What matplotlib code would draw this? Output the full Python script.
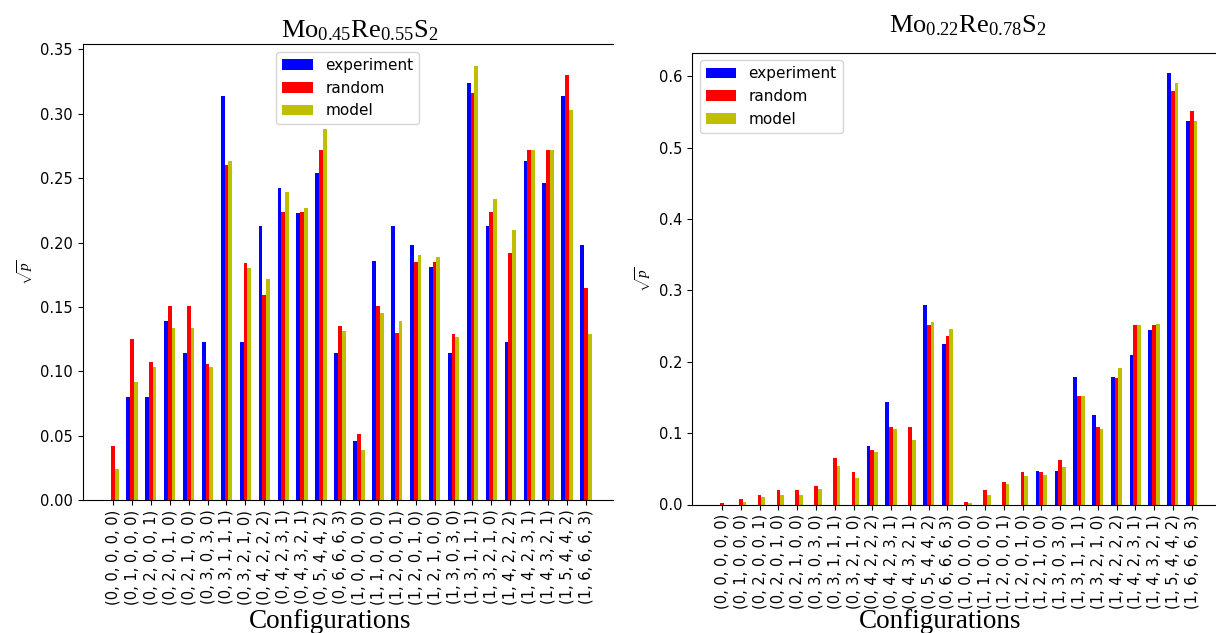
import matplotlib
matplotlib.use("Agg")
import matplotlib.pyplot as plt
import numpy as np

plt.rcParams['mathtext.fontset'] = 'custom'
plt.rcParams['mathtext.rm'] = 'Liberation Serif'
plt.rcParams['mathtext.it'] = 'Liberation Serif:italic'

configs = [
    (0, 0, 0, 0, 0), (0, 1, 0, 0, 0), (0, 2, 0, 0, 1), (0, 2, 0, 1, 0),
    (0, 2, 1, 0, 0), (0, 3, 0, 3, 0), (0, 3, 1, 1, 1), (0, 3, 2, 1, 0),
    (0, 4, 2, 2, 2), (0, 4, 2, 3, 1), (0, 4, 3, 2, 1), (0, 5, 4, 4, 2),
    (0, 6, 6, 6, 3), (1, 0, 0, 0, 0), (1, 1, 0, 0, 0), (1, 2, 0, 0, 1),
    (1, 2, 0, 1, 0), (1, 2, 1, 0, 0), (1, 3, 0, 3, 0), (1, 3, 1, 1, 1),
    (1, 3, 2, 1, 0), (1, 4, 2, 2, 2), (1, 4, 2, 3, 1), (1, 4, 3, 2, 1),
    (1, 5, 4, 4, 2), (1, 6, 6, 6, 3),
]
labels = [str(c) for c in configs]

# Mo0.45Re0.55S2
exp_a = [0.0, 0.080, 0.080, 0.139, 0.114, 0.123, 0.314, 0.123, 0.213, 0.242,
         0.223, 0.254, 0.114, 0.046, 0.186, 0.213, 0.198, 0.181, 0.114, 0.324,
         0.213, 0.123, 0.263, 0.246, 0.314, 0.198]
rnd_a = [0.042, 0.125, 0.107, 0.151, 0.151, 0.106, 0.260, 0.184, 0.159, 0.224,
         0.224, 0.272, 0.135, 0.051, 0.151, 0.130, 0.185, 0.185, 0.129, 0.316,
         0.224, 0.192, 0.272, 0.272, 0.330, 0.165]
mod_a = [0.024, 0.092, 0.103, 0.134, 0.134, 0.103, 0.263, 0.180, 0.172, 0.239,
         0.227, 0.288, 0.131, 0.039, 0.145, 0.139, 0.190, 0.189, 0.127, 0.337,
         0.234, 0.210, 0.272, 0.272, 0.303, 0.129]

# Mo0.22Re0.78S2
exp_b = [0.0, 0.0, 0.0, 0.0, 0.0, 0.0, 0.0, 0.0, 0.082, 0.144,
         0.0, 0.279, 0.225, 0.0, 0.0, 0.0, 0.0, 0.047, 0.047, 0.179,
         0.126, 0.179, 0.209, 0.244, 0.605, 0.537]
rnd_b = [0.002, 0.008, 0.014, 0.020, 0.020, 0.026, 0.065, 0.046, 0.076, 0.108,
         0.108, 0.251, 0.236, 0.004, 0.020, 0.032, 0.046, 0.046, 0.062, 0.152,
         0.108, 0.177, 0.251, 0.251, 0.580, 0.551]
mod_b = [0.0, 0.004, 0.010, 0.013, 0.013, 0.022, 0.054, 0.037, 0.074, 0.106,
         0.091, 0.255, 0.246, 0.002, 0.014, 0.029, 0.040, 0.041, 0.053, 0.152,
         0.106, 0.191, 0.252, 0.253, 0.590, 0.537]

W, H = 1216, 633
fig = plt.figure(figsize=(W / 100, H / 100), dpi=100)


def px_axes(x0, x1, ytop, ybot):
    return fig.add_axes([x0 / W, (H - ybot) / H, (x1 - x0) / W, (ybot - ytop) / H])


def draw(ax, e, r, m, ylim, loc):
    x = np.arange(len(labels))
    w = 0.2
    ax.bar(x - w, e, w, color='b', label='experiment')
    ax.bar(x, r, w, color='r', label='random')
    ax.bar(x + w, m, w, color='y', label='model')
    ax.set_xticks(x)
    ax.set_xticklabels(labels, rotation=90, fontsize=10.5)
    ax.tick_params(axis='y', labelsize=10.5)
    ax.set_xlim(-1.6, 26.43)
    ax.set_ylim(0, ylim)
    ax.set_ylabel(r'$\sqrt{p}$', fontsize=11)
    ax.legend(loc=loc, fontsize=11)


ax1 = px_axes(82.7, 613, 44.3, 500)
draw(ax1, exp_a, rnd_a, mod_a, 0.354, 'upper center')
ax1.spines['right'].set_visible(False)

ax2 = px_axes(692, 1218.5, 52.7, 504.5)
draw(ax2, exp_b, rnd_b, mod_b, 0.633, 'upper left')

fig.text(360 / W, 1 - 30 / H, r'$\mathrm{Mo_{0.45}Re_{0.55}S_2}$', fontsize=19,
         ha='center', va='center')
fig.text(968 / W, 1 - 25 / H, r'$\mathrm{Mo_{0.22}Re_{0.78}S_2}$', fontsize=19,
         ha='center', va='center')
fig.text(330 / W, 1 - 621 / H, 'Configurations', family='Liberation Serif',
         fontsize=19.5, ha='center', va='center')
fig.text(940 / W, 1 - 621 / H, 'Configurations', family='Liberation Serif',
         fontsize=19.5, ha='center', va='center')

fig.savefig('out.png', dpi=100)
